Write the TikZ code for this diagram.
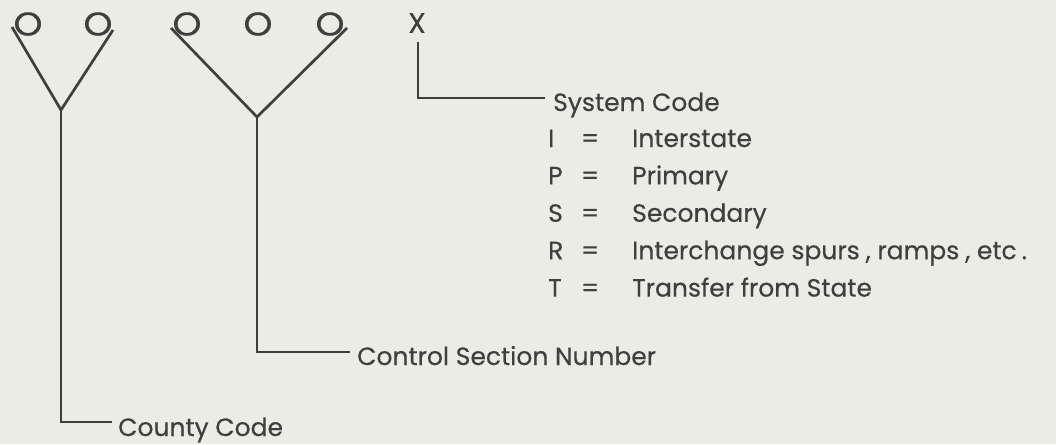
\documentclass[tikz,border=0pt]{standalone}
\usepackage{fontspec}
\setmainfont{Poppins}[FakeBold=0.4]
\definecolor{bg}{RGB}{236,236,231}
\definecolor{ink}{RGB}{62,64,60}
\begin{document}
\begin{tikzpicture}[x=1pt,y=-1pt,
  conn/.style={draw=ink, line width=2.7pt, line join=miter},
  lbl/.style={inner sep=0pt, anchor=base west, text=ink, font=\fontsize{25}{30}\selectfont},
  glyph/.style={inner sep=0pt, anchor=center, text=ink, font=\fontsize{33}{40}\selectfont, xscale=1.12, transform shape},
  xglyph/.style={inner sep=0pt, anchor=center, text=ink, font=\fontsize{28}{34}\selectfont}]
\fill[bg] (0,0) rectangle (1056,444);
\useasboundingbox (0,0) rectangle (1056,444);
% digit placeholders
\node[glyph] (o1) at (28,24) {O};
\node[glyph] (o2) at (98,24) {O};
\node[glyph] (o3) at (187,24) {O};
\node[glyph] (o4) at (258,24) {O};
\node[glyph] (o5) at (330,24) {O};
\node[xglyph] (x) at (417,23) {X};
% county code bracket
\coordinate (a1) at (12,27);
\coordinate (a2) at (113,30);
\coordinate (j1) at (61,110);
\coordinate (e1) at (112,422);
\draw[conn] (a1) -- (j1) -- (a2);
\draw[conn] (j1) |- (e1);
% control section bracket
\coordinate (b1) at (171,28);
\coordinate (b2) at (347,28);
\coordinate (j2) at (257,117);
\coordinate (e2) at (350,352);
\draw[conn] (b1) -- (j2) -- (b2);
\draw[conn] (j2) |- (e2);
% system code
\coordinate (s0) at (418,42);
\coordinate (e3) at (545,98);
\draw[conn] (s0) |- (e3);
% labels
\node[lbl] (sys) at (553,111) {System Code};
\node[lbl] (ctl) at (357,365) {Control Section Number};
\node[lbl] (cty) at (118,436) {County Code};
% legend
\foreach \k/\c/\t in {0/I/Interstate, 1/P/Primary, 2/S/Secondary, 3/R/{Interchange spurs\hspace{6pt}, ramps\hspace{6pt}, etc\hspace{5pt}.}, 4/T/Transfer from State}{
  \node[lbl] (k\k) at (548,147+37.4*\k) {\c};
  \node[lbl, anchor=base] (q\k) at (590,147+37.4*\k) {=};
  \node[lbl] (t\k) at (632,147+37.4*\k) {\t};
}
\end{tikzpicture}
\end{document}
